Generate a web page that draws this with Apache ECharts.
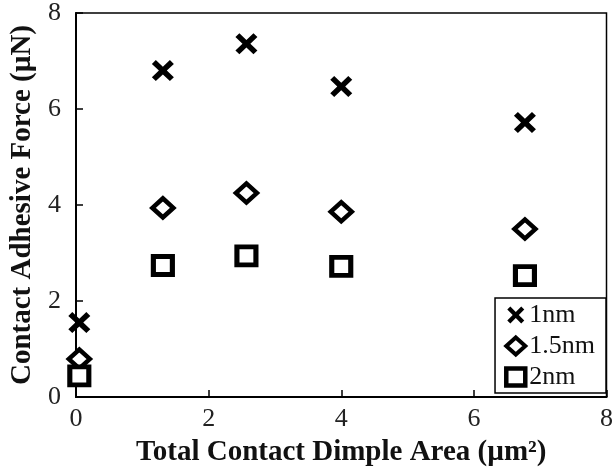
<!DOCTYPE html>
<html>
<head>
<meta charset="utf-8">
<script src="https://cdn.jsdelivr.net/npm/echarts@6/dist/echarts.min.js"></script>
<style>html,body{margin:0;padding:0;background:#fff}#c{width:616px;height:473px}</style>
</head>
<body>
<div id="c"></div>
<script>
const seriesNames = ['1nm', '1.5nm', '2nm'];
const areaX = [0.05, 1.31, 2.57, 4.0, 6.77];
const force1nm = [1.55, 6.80, 7.36, 6.47, 5.72];
const force15nm = [0.79, 3.94, 4.25, 3.86, 3.50];
const force2nm = [0.44, 2.74, 2.94, 2.72, 2.53];
const xTicks = [0, 2, 4, 6, 8];
const yTicks = [0, 2, 4, 6, 8];

const FONT = '"Liberation Serif", "Times New Roman", serif';
const crossPath = 'path://M3.6,0 L10,6.4 L16.4,0 L20,3.6 L13.6,10 L20,16.4 L16.4,20 L10,13.6 L3.6,20 L0,16.4 L6.4,10 L0,3.6 Z';
const pairs = ys => areaX.map((x, i) => [x, ys[i]]);

const chart = echarts.init(document.getElementById('c'), null, {renderer: 'canvas'});
chart.setOption({
  animation: false,
  backgroundColor: '#fff',
  grid: {left: 73, right: 4, top: 11, bottom: 76, show: true, borderColor: '#000', borderWidth: 1.5, backgroundColor: 'transparent'},
  xAxis: {
    type: 'value', min: xTicks[0], max: xTicks[xTicks.length - 1], interval: 2,
    name: 'Total Contact Dimple Area (µm²)', nameLocation: 'middle', nameGap: 41,
    nameTextStyle: {fontFamily: FONT, fontWeight: 'bold', fontSize: 29, color: '#111'},
    axisLine: {lineStyle: {color: '#000', width: 2}},
    axisTick: {inside: true, length: 7, lineStyle: {color: '#000', width: 1.5}},
    axisLabel: {fontFamily: FONT, fontSize: 26, color: '#222', margin: 9,
      formatter: v => xTicks.includes(v) ? String(v) : ''},
    splitLine: {show: false}
  },
  yAxis: {
    type: 'value', min: yTicks[0], max: yTicks[yTicks.length - 1], interval: 2,
    name: 'Contact Adhesive Force (µN)', nameLocation: 'middle', nameGap: 39,
    nameTextStyle: {fontFamily: FONT, fontWeight: 'bold', fontSize: 29, color: '#111'},
    axisLine: {lineStyle: {color: '#000', width: 2}},
    axisTick: {inside: true, length: 7, lineStyle: {color: '#000', width: 1.5}},
    axisLabel: {fontFamily: FONT, fontSize: 26, color: '#222', margin: 15,
      formatter: v => yTicks.includes(v) ? String(v) : ''},
    splitLine: {show: false}
  },
  legend: {
    orient: 'vertical', right: 10, bottom: 80,
    data: [
      {name: seriesNames[0], itemStyle: {color: '#000', borderWidth: 0}},
      {name: seriesNames[1], itemStyle: {color: '#fff', borderColor: '#000', borderWidth: 4}},
      {name: seriesNames[2], itemStyle: {color: '#fff', borderColor: '#000', borderWidth: 4.5}}
    ],
    backgroundColor: '#fff', borderColor: '#000', borderWidth: 1.5,
    padding: [4, 11, 3, 9], itemGap: 5, itemWidth: 19, itemHeight: 17,
    textStyle: {fontFamily: FONT, fontSize: 26, color: '#111', padding: [0, 0, 0, -1]}
  },
  series: [
    {name: seriesNames[0], type: 'scatter', data: pairs(force1nm), symbol: crossPath, symbolSize: [22, 21],
      itemStyle: {color: '#000', opacity: 1}},
    {name: seriesNames[1], type: 'scatter', data: pairs(force15nm), symbol: 'diamond', symbolSize: [21, 19],
      itemStyle: {color: '#fff', borderColor: '#000', borderWidth: 4.5, opacity: 1}},
    {name: seriesNames[2], type: 'scatter', data: pairs(force2nm), symbol: 'rect', symbolSize: [19, 18],
      itemStyle: {color: '#fff', borderColor: '#000', borderWidth: 5, opacity: 1}}
  ]
});
</script>
</body>
</html>
